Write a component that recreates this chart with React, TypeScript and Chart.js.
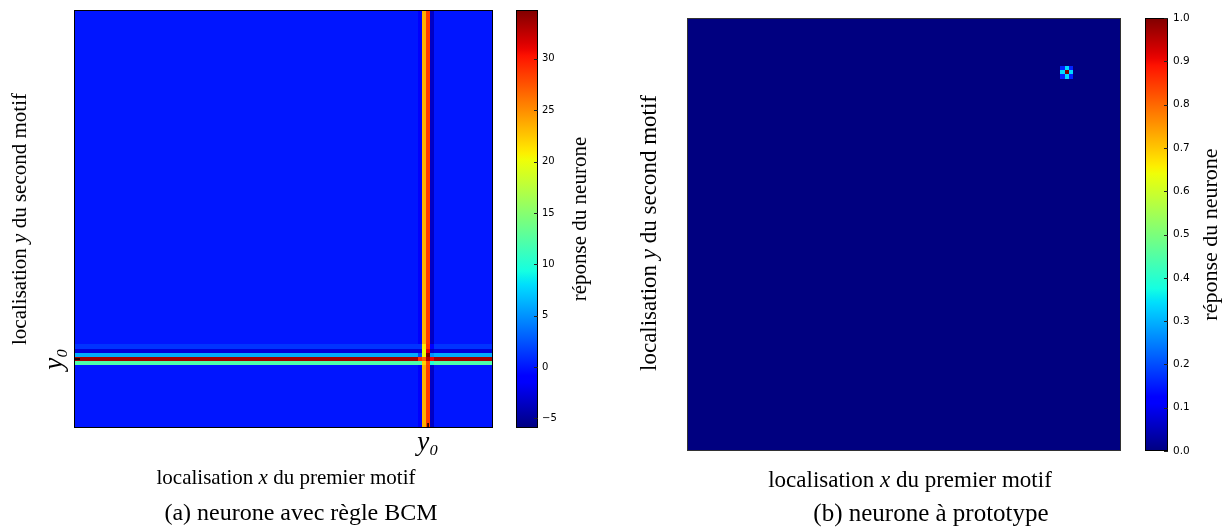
import React, { useEffect, useRef } from 'react';
import { Chart, registerables } from 'chart.js';

Chart.register(...registerables);

const W = 614;
const H = 527;
const GRID = 100; // cells per side of each map

// ---------- (a) neurone avec règle BCM ----------
const bcmBackground = 0;
const bcmStripeCols = [82, 83, 84, 85];
const bcmStripeValues = [-1.5, 23.5, 28.5, -3.5];
const bcmBandRows = [19, 18, 17, 16, 15];
const bcmBandValues = [1.2, -2.7, 6.0, 33.5, 12.1];
// values where a band row crosses a stripe column (rows follow bcmBandRows, columns bcmStripeCols)
const bcmCrossValues = [
  [1.2, 21.0, 29.0, -1.0],
  [-2.7, 20.0, 31.0, -3.5],
  [2.0, 20.0, 34.76, 5.0],
  [29.0, 27.0, 33.0, 31.0],
  [12.1, 22.0, 28.0, 10.0],
];
const bcmRange = [-5.94, 34.76];
const bcmColorTicks = [-5, 0, 5, 10, 15, 20, 25, 30];
const bcmXTicks = [84.5];
const bcmYTicks = [16.5];

// ---------- (b) neurone à prototype ----------
const protoBackground = 0;
const protoSpotCols = [86, 87, 88];
const protoSpotRows = [88, 87, 86];
const protoSpotValues = [
  [0.16, 0.34, 0.16],
  [0.34, 1.0, 0.34],
  [0.16, 0.34, 0.16],
];
const protoRange = [0, 1];
const protoColorTicks = [0, 0.1, 0.2, 0.3, 0.4, 0.5, 0.6, 0.7, 0.8, 0.9, 1.0];

// ---------- texts ----------
const tickLabelY0 = 'y₀';
const xTitle = [['localisation ', false], ['x', true], [' du premier motif', false]];
const yTitle = [['localisation ', false], ['y', true], [' du second motif', false]];
const cbTitle = 'réponse du neurone';
const captionA = '(a) neurone avec règle BCM';
const captionB = '(b) neurone à prototype';

const SERIF = '"Liberation Serif", "DejaVu Serif", serif';

// matplotlib "jet"
const JET_R = [[0, 0], [0.35, 0], [0.66, 1], [0.89, 1], [1, 0.5]];
const JET_G = [[0, 0], [0.125, 0], [0.375, 1], [0.64, 1], [0.91, 0], [1, 0]];
const JET_B = [[0, 0.5], [0.11, 1], [0.34, 1], [0.65, 0], [1, 0]];
function seg(points: number[][], t: number) {
  for (let i = 1; i < points.length; i++) {
    if (t <= points[i][0]) {
      const [x0, y0] = points[i - 1];
      const [x1, y1] = points[i];
      return y0 + ((t - x0) / (x1 - x0)) * (y1 - y0);
    }
  }
  return points[points.length - 1][1];
}
function jet(t: number) {
  const c = Math.max(0, Math.min(1, t));
  const r = Math.round(255 * seg(JET_R, c));
  const g = Math.round(255 * seg(JET_G, c));
  const b = Math.round(255 * seg(JET_B, c));
  return `rgb(${r},${g},${b})`;
}

function buildBcmCells() {
  const cells: { x: number; y: number; v: number }[] = [];
  for (let y = 0; y < GRID; y++) {
    for (let x = 0; x < GRID; x++) {
      const ci = bcmStripeCols.indexOf(x);
      const ri = bcmBandRows.indexOf(y);
      let v = bcmBackground;
      if (ri >= 0 && ci >= 0) v = bcmCrossValues[ri][ci];
      else if (ri >= 0) v = bcmBandValues[ri];
      else if (ci >= 0) v = bcmStripeValues[ci];
      cells.push({ x, y, v });
    }
  }
  return cells;
}

function buildProtoCells() {
  const cells: { x: number; y: number; v: number }[] = [];
  for (let y = 0; y < GRID; y++) {
    for (let x = 0; x < GRID; x++) {
      const ci = protoSpotCols.indexOf(x);
      const ri = protoSpotRows.indexOf(y);
      const v = ri >= 0 && ci >= 0 ? protoSpotValues[ri][ci] : protoBackground;
      cells.push({ x, y, v });
    }
  }
  return cells;
}

type Panel = {
  left: number;
  cells: { x: number; y: number; v: number }[];
  range: number[];
  colorTicks: number[];
  fmt: (v: number) => string;
  xTicks: number[];
  yTicks: number[];
  area: { left: number; top: number; right: number; bottom: number };
  frameColor: string;
  cbGap: number;
  cbWidth: number;
  cbLabelPad: number;
  cbFont: number;
  cbTitleX: number;
  cbTitleSize: number;
  titleSize: number;
  xTitlePos: number[];
  yTitlePos: number[];
  caption: string;
  captionPos: number[];
  captionSize: number;
};

function drawRich(ctx: CanvasRenderingContext2D, segs: any[], cx: number, cy: number, rot: number, size: number) {
  ctx.save();
  ctx.translate(cx, cy);
  ctx.rotate(rot);
  const fonts = segs.map((s) => `${s[1] ? 'italic ' : ''}${size}px ${SERIF}`);
  let total = 0;
  const widths = segs.map((s, i) => {
    ctx.font = fonts[i];
    const w = ctx.measureText(s[0]).width;
    total += w;
    return w;
  });
  let x = -total / 2;
  ctx.textBaseline = 'middle';
  ctx.textAlign = 'left';
  ctx.fillStyle = '#000';
  segs.forEach((s, i) => {
    ctx.font = fonts[i];
    ctx.fillText(s[0], x, 0);
    x += widths[i];
  });
  ctx.restore();
}

function makePlugin(p: Panel) {
  return {
    id: 'heatmap',
    afterDatasetsDraw(chart: any) {
      const ctx: CanvasRenderingContext2D = chart.ctx;
      const xs = chart.scales.x;
      const ys = chart.scales.y;
      const cb = chart.scales.cb;
      const area = chart.chartArea;
      const [mn, mx] = p.range;
      const data = chart.data.datasets[0].data as any[];
      ctx.save();
      for (const c of data) {
        const x0 = Math.round(xs.getPixelForValue(c.x));
        const x1 = Math.round(xs.getPixelForValue(c.x + 1));
        const y0 = Math.round(ys.getPixelForValue(c.y + 1));
        const y1 = Math.round(ys.getPixelForValue(c.y));
        ctx.fillStyle = jet((c.v - mn) / (mx - mn));
        ctx.fillRect(x0, y0, x1 - x0, y1 - y0);
      }
      // frame
      ctx.strokeStyle = p.frameColor;
      ctx.lineWidth = 1;
      ctx.strokeRect(area.left + 0.5, area.top + 0.5, area.right - area.left - 1, area.bottom - area.top - 1);
      // inward tick marks for y0
      ctx.strokeStyle = '#000';
      ctx.lineWidth = 1.5;
      for (const v of p.xTicks) {
        const x = xs.getPixelForValue(v);
        ctx.beginPath();
        ctx.moveTo(x, area.bottom);
        ctx.lineTo(x, area.bottom - 5);
        ctx.stroke();
      }
      for (const v of p.yTicks) {
        const y = ys.getPixelForValue(v);
        ctx.beginPath();
        ctx.moveTo(area.left, y);
        ctx.lineTo(area.left + 6, y);
        ctx.stroke();
      }
      // colour bar
      const bx = area.right + p.cbGap;
      const top = cb.getPixelForValue(mx);
      const bottom = cb.getPixelForValue(mn);
      const grad = ctx.createLinearGradient(0, bottom, 0, top);
      for (let i = 0; i <= 64; i++) grad.addColorStop(i / 64, jet(i / 64));
      ctx.fillStyle = grad;
      ctx.fillRect(bx, top, p.cbWidth, bottom - top);
      ctx.strokeStyle = '#000';
      ctx.lineWidth = 1;
      ctx.strokeRect(bx + 0.5, top + 0.5, p.cbWidth - 1, bottom - top - 1);
      ctx.strokeStyle = '#222';
      for (const v of p.colorTicks) {
        const y = Math.round(cb.getPixelForValue(v)) + 0.5;
        ctx.beginPath();
        ctx.moveTo(bx + p.cbWidth - 4, y);
        ctx.lineTo(bx + p.cbWidth, y);
        ctx.stroke();
      }
      // colour bar title
      ctx.save();
      ctx.translate(p.cbTitleX, (area.top + area.bottom) / 2);
      ctx.rotate(-Math.PI / 2);
      ctx.font = `${p.cbTitleSize}px ${SERIF}`;
      ctx.fillStyle = '#000';
      ctx.textAlign = 'center';
      ctx.textBaseline = 'middle';
      ctx.fillText(cbTitle, 0, 0);
      ctx.restore();
      // axis titles
      drawRich(ctx, xTitle, p.xTitlePos[0], p.xTitlePos[1], 0, p.titleSize);
      drawRich(ctx, yTitle, p.yTitlePos[0], p.yTitlePos[1], -Math.PI / 2, p.titleSize);
      // caption
      ctx.font = `${p.captionSize}px ${SERIF}`;
      ctx.fillStyle = '#000';
      ctx.textAlign = 'center';
      ctx.textBaseline = 'middle';
      ctx.fillText(p.caption, p.captionPos[0], p.captionPos[1]);
      ctx.restore();
    },
  };
}

function makeChart(canvas: HTMLCanvasElement, p: Panel) {
  const tickFont = { family: SERIF, size: 27, style: 'italic' as const };
  return new Chart(canvas, {
    type: 'scatter',
    data: { datasets: [{ data: p.cells as any, pointRadius: 0, pointHoverRadius: 0 }] },
    options: {
      animation: false,
      responsive: false,
      events: [],
      devicePixelRatio: 1,
      layout: { padding: { top: p.area.top, left: 0, right: 0, bottom: 0 } },
      plugins: { legend: { display: false }, tooltip: { enabled: false } },
      scales: {
        x: {
          type: 'linear',
          min: 0,
          max: GRID,
          grid: { display: false, drawTicks: false },
          border: { display: false },
          afterBuildTicks: (s: any) => {
            s.ticks = p.xTicks.map((v) => ({ value: v }));
          },
          ticks: {
            display: p.xTicks.length > 0,
            autoSkip: false,
            minRotation: 0,
            maxRotation: 0,
            padding: -1,
            font: tickFont,
            color: '#000',
            callback: () => tickLabelY0,
          },
          afterFit: (s: any) => {
            s.height = H - p.area.bottom;
            s.paddingLeft = 0;
            s.paddingRight = 0;
          },
        },
        y: {
          type: 'linear',
          position: 'left',
          min: 0,
          max: GRID,
          grid: { display: false, drawTicks: false },
          border: { display: false },
          afterBuildTicks: (s: any) => {
            s.ticks = p.yTicks.map((v) => ({ value: v }));
          },
          ticks: {
            display: p.yTicks.length > 0,
            autoSkip: false,
            minRotation: 90,
            maxRotation: 90,
            crossAlign: 'center',
            padding: 8,
            font: tickFont,
            color: '#000',
            callback: () => tickLabelY0,
          },
          afterFit: (s: any) => {
            s.width = p.area.left;
            s.paddingTop = 0;
            s.paddingBottom = 0;
          },
        },
        cb: {
          type: 'linear',
          axis: 'y',
          position: 'right',
          min: p.range[0],
          max: p.range[1],
          grid: { display: false, drawTicks: false },
          border: { display: false },
          afterBuildTicks: (s: any) => {
            s.ticks = p.colorTicks.map((v) => ({ value: v }));
          },
          ticks: {
            autoSkip: false,
            padding: p.cbLabelPad,
            font: { family: '"DejaVu Sans", sans-serif', size: p.cbFont },
            color: '#000',
            callback: (v: any) => p.fmt(Number(v)),
          },
          afterFit: (s: any) => {
            s.width = W - p.area.right;
            s.paddingTop = 0;
            s.paddingBottom = 0;
          },
        },
      } as any,
    },
    plugins: [makePlugin(p)],
  });
}

const panelA: Panel = {
  left: 0,
  cells: buildBcmCells(),
  range: bcmRange,
  colorTicks: bcmColorTicks,
  fmt: (v) => (v < 0 ? '−' + Math.abs(v) : String(v)),
  xTicks: bcmXTicks,
  yTicks: bcmYTicks,
  area: { left: 74, top: 10, right: 493, bottom: 428 },
  frameColor: '#000',
  cbGap: 23,
  cbWidth: 22,
  cbLabelPad: 49,
  cbFont: 10,
  cbTitleX: 580,
  cbTitleSize: 21,
  titleSize: 21,
  xTitlePos: [286, 478],
  yTitlePos: [20, 219],
  caption: captionA,
  captionPos: [301, 514],
  captionSize: 24,
};

const panelB: Panel = {
  left: 615,
  cells: buildProtoCells(),
  range: protoRange,
  colorTicks: protoColorTicks,
  fmt: (v) => v.toFixed(1),
  xTicks: [],
  yTicks: [],
  area: { left: 72, top: 18, right: 506, bottom: 451 },
  frameColor: '#333',
  cbGap: 24,
  cbWidth: 23,
  cbLabelPad: 52,
  cbFont: 10.5,
  cbTitleX: 596,
  cbTitleSize: 22,
  titleSize: 23,
  xTitlePos: [295, 481],
  yTitlePos: [35, 233],
  caption: captionB,
  captionPos: [316, 514],
  captionSize: 25,
};

function HeatPanel({ p }: { p: Panel }) {
  const ref = useRef<HTMLCanvasElement>(null);
  useEffect(() => {
    if (!ref.current) return;
    const chart = makeChart(ref.current, p);
    return () => chart.destroy();
  }, [p]);
  return (
    <canvas
      ref={ref}
      width={W}
      height={H}
      style={{ position: 'absolute', left: p.left, top: 0, width: W, height: H }}
    />
  );
}

export default function App() {
  return (
    <div style={{ position: 'absolute', left: 0, top: 0, width: 1229, height: 527, background: '#fff' }}>
      <HeatPanel p={panelA} />
      <HeatPanel p={panelB} />
    </div>
  );
}
